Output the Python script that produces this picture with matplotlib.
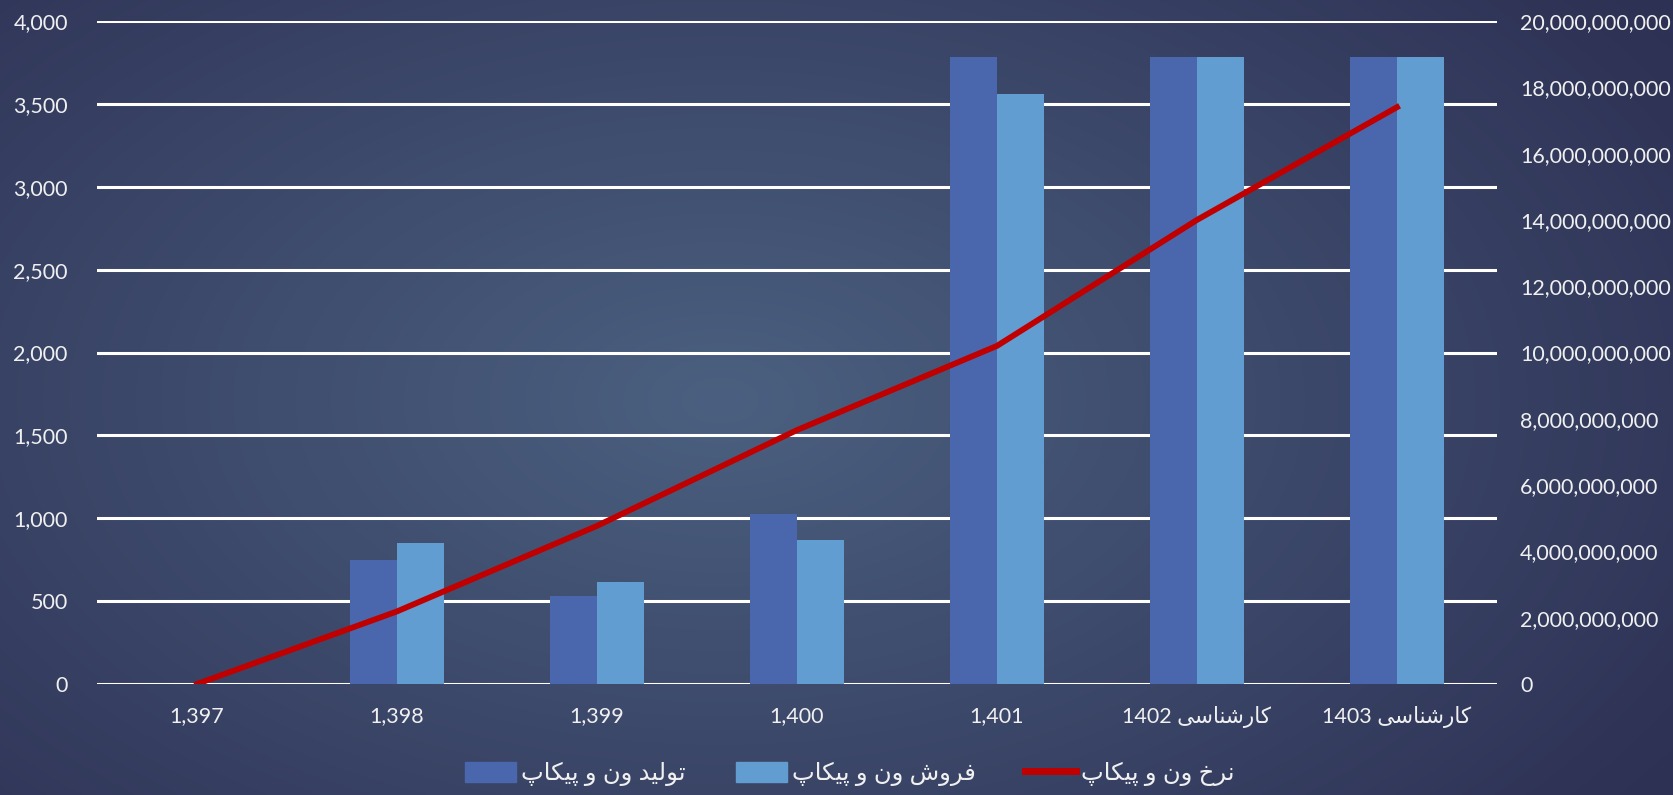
import numpy as np
import matplotlib
matplotlib.use("Agg")
import matplotlib.pyplot as plt
from matplotlib.patches import Patch
from matplotlib.lines import Line2D

categories = ["1,397", "1,398", "1,399", "1,400", "1,401", "کارشناسی 1402", "کارشناسی 1403"]
production = [0, 747, 528, 1024, 3781, 3781, 3781]
sales = [0, 850, 618, 870, 3562, 3781, 3781]
price = [0, 2.19e9, 4.77e9, 7.66e9, 10.2e9, 14.0e9, 17.4e9]
left_ticks = [0, 500, 1000, 1500, 2000, 2500, 3000, 3500, 4000]
right_ticks = [0, 2e9, 4e9, 6e9, 8e9, 10e9, 12e9, 14e9, 16e9, 18e9, 20e9]
legend_labels = ["تولید ون و پیکاپ", "فروش ون و پیکاپ", "نرخ ون و پیکاپ"]

# --- minimal Persian shaping (presentation forms + RTL reversal) ---
FORMS = {  # isolated, final, initial, medial
    'ا': ('\uFE8D', '\uFE8E', None, None),
    'د': ('\uFEA9', '\uFEAA', None, None),
    'ر': ('\uFEAD', '\uFEAE', None, None),
    'و': ('\uFEED', '\uFEEE', None, None),
    'ت': ('\uFE95', '\uFE96', '\uFE97', '\uFE98'),
    'ل': ('\uFEDD', '\uFEDE', '\uFEDF', '\uFEE0'),
    'ی': ('\uFBFC', '\uFBFD', '\uFBFE', '\uFBFF'),
    'ن': ('\uFEE5', '\uFEE6', '\uFEE7', '\uFEE8'),
    'پ': ('\uFB56', '\uFB57', '\uFB58', '\uFB59'),
    'ک': ('\uFB8E', '\uFB8F', '\uFB90', '\uFB91'),
    'ف': ('\uFED1', '\uFED2', '\uFED3', '\uFED4'),
    'ش': ('\uFEB5', '\uFEB6', '\uFEB7', '\uFEB8'),
    'س': ('\uFEB1', '\uFEB2', '\uFEB3', '\uFEB4'),
    'خ': ('\uFEA5', '\uFEA6', '\uFEA7', '\uFEA8'),
}


def shape_word(w):
    out = []
    n = len(w)
    for i, ch in enumerate(w):
        f = FORMS.get(ch)
        if f is None:
            out.append(ch)
            continue
        prev = w[i - 1] if i > 0 else None
        nxt = w[i + 1] if i < n - 1 else None
        join_prev = prev in FORMS and FORMS[prev][2] is not None
        join_next = nxt in FORMS and f[2] is not None
        if join_prev and join_next:
            out.append(f[3])
        elif join_prev:
            out.append(f[1])
        elif join_next:
            out.append(f[2])
        else:
            out.append(f[0])
    return ''.join(out)


def fa(s):
    tokens = s.split(' ')
    shaped = []
    for t in tokens:
        if any(c in FORMS for c in t):
            shaped.append(shape_word(t)[::-1])
        else:
            shaped.append(t)
    return ' '.join(shaped[::-1])


FONT = ['Lato', 'DejaVu Sans']
plt.rcParams['font.family'] = FONT

W, H = 1673, 795
fig = plt.figure(figsize=(W / 100, H / 100), dpi=100)

# background gradient
yy, xx = np.mgrid[0:H, 0:W]
d = np.sqrt(((xx - 720) / 1120.0) ** 2 + ((yy - 400) / 660.0) ** 2)
d = np.clip(d, 0, 1)
c0 = np.array([0x4b, 0x60, 0x80]) / 255.0
c1 = np.array([0x2e, 0x32, 0x55]) / 255.0
img = c0[None, None, :] * (1 - d[..., None]) + c1[None, None, :] * d[..., None]
bg = fig.add_axes([0, 0, 1, 1])
bg.imshow(img, aspect='auto', extent=[0, 1, 0, 1])
bg.axis('off')

L, R, T, B = 97, 1497, 21, 684
ax = fig.add_axes([L / W, 1 - B / H, (R - L) / W, (B - T) / H])
ax.patch.set_alpha(0)
x = np.arange(len(categories))
bw = 0.235
dark = '#4a67ae'
light = '#619dd1'
ax.bar(x - bw / 2, production, bw, color=dark, zorder=3)
ax.bar(x + bw / 2, sales, bw, color=light, zorder=3)
ax.set_ylim(0, 4000)
ax.set_xlim(-0.5, len(categories) - 0.5)
ax.set_yticks(left_ticks)
ax.set_yticklabels([f"{v:,}" for v in left_ticks])
ax.grid(axis='y', color='white', linewidth=2.2, zorder=1)
ax.set_axisbelow(True)
for s in ax.spines.values():
    s.set_visible(False)
ax.tick_params(length=0, colors='#f0f0f0', labelsize=15.5)
ax.tick_params(axis='y', pad=21)
ax.set_xticks(x)
ax.set_xticklabels([fa(c) for c in categories])
ax.tick_params(axis='x', pad=16)

ax2 = ax.twinx()
ax2.plot(x, price, color='#c00000', linewidth=4.2, zorder=5)
ax2.set_ylim(0, 20e9)
ax2.set_yticks(right_ticks)
ax2.set_yticklabels([f"{int(v):,}" for v in right_ticks])
for s in ax2.spines.values():
    s.set_visible(False)
ax2.tick_params(length=0, colors='#f0f0f0', labelsize=15.5, pad=16.5)

handles = [Patch(color=dark), Patch(color=light), Line2D([0], [0], color='#c00000', lw=5)]
leg = fig.legend(handles, [fa(l) for l in legend_labels], loc='center',
                 bbox_to_anchor=(850 / W, 1 - 774 / H), ncol=3, frameon=False,
                 fontsize=17.5, labelcolor='#f0f0f0', handlelength=2.1,
                 handleheight=0.9, columnspacing=2.05, handletextpad=0.2)

fig.savefig('out.png', dpi=100)
